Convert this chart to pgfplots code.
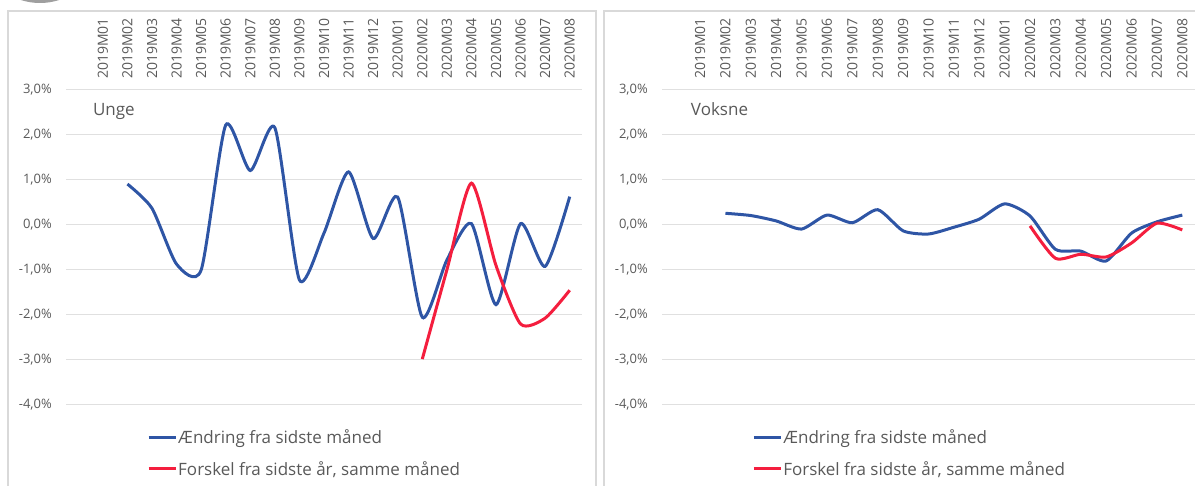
\documentclass[border=0pt]{standalone}
\usepackage{fontspec}
\setmainfont{Open Sans}
\usepackage{pgfplots}
\pgfplotsset{compat=1.18}
\usepackage{pgfplotstable}

\definecolor{serblue}{HTML}{2E55A5}
\definecolor{serred}{HTML}{F41E3E}
\definecolor{gridc}{HTML}{E0E0E0}
\definecolor{txt}{HTML}{595959}
\definecolor{frame}{HTML}{D9D9D9}

% x: 0 = 2019M01 ... 19 = 2020M08
\pgfplotstableread{
x y
1 0.91
2 0.37
3 -0.87
4 -1.00
5 2.22
6 1.21
7 2.16
8 -1.22
9 -0.18
10 1.18
11 -0.30
12 0.62
13 -2.05
14 -0.78
15 0.03
16 -1.77
17 0.03
18 -0.92
19 0.63
}\ungeBlue
\pgfplotstableread{
x y
13 -2.98
14 -1.00
15 0.93
16 -0.90
17 -2.20
18 -2.07
19 -1.45
}\ungeRed
\pgfplotstableread{
x y
1 0.26
2 0.21
3 0.09
4 -0.09
5 0.22
6 0.05
7 0.34
8 -0.13
9 -0.20
10 -0.05
11 0.13
12 0.47
13 0.20
14 -0.54
15 -0.58
16 -0.80
17 -0.18
18 0.07
19 0.22
}\voksneBlue
\pgfplotstableread{
x y
13 -0.02
14 -0.74
15 -0.65
16 -0.71
17 -0.40
18 0.04
19 -0.11
}\voksneRed

\pgfplotsset{
  panel/.style={
    scale only axis,
    height=315pt,
    xmin=-1.5, xmax=19.5,
    ymin=-4, ymax=3,
    axis line style={draw=none},
    major tick length=0pt,
    ymajorgrids,
    grid style={gridc, line width=1pt},
    xtick={0,...,19},
    xticklabels={2019M01,2019M02,2019M03,2019M04,2019M05,2019M06,2019M07,2019M08,2019M09,2019M10,2019M11,2019M12,2020M01,2020M02,2020M03,2020M04,2020M05,2020M06,2020M07,2020M08},
    xticklabel pos=upper,
    xticklabel style={rotate=90, anchor=west, inner xsep=11pt, inner ysep=0pt, font=\fontsize{14}{16}\selectfont, text=txt},
    ytick={-4,-3,-2,-1,0,1,2,3},
    yticklabels={{-4,0\%},{-3,0\%},{-2,0\%},{-1,0\%},{0,0\%},{1,0\%},{2,0\%},{3,0\%}},
    yticklabel style={anchor=east, inner sep=0pt, xshift=-14pt, font=\fontsize{13}{15}\selectfont, text=txt},
    clip=false,
    legend cell align=left,
    legend image code/.code={\draw[#1, line width=3pt, sharp plot] (0pt,0pt) -- (27pt,0pt);},
    legend style={draw=none, fill=none, anchor=north west, inner sep=0pt,
      font=\fontsize{17}{20}\selectfont, text=txt, row sep=14pt,
      nodes={inner sep=1pt},
      /tikz/every odd column/.append style={column sep=0pt}},
  },
  blueline/.style={serblue, line width=3pt, smooth, tension=0.4},
  redline/.style={serred, line width=3pt, smooth, tension=0.4},
}

\begin{document}
\begin{tikzpicture}[x=1pt,y=1pt]
% decoration circle and panel frames
\fill[gray!75] (40,545) circle (62);
\draw[frame, line width=1.5pt] (8,-20) rectangle (596,475);
\draw[frame, line width=1.5pt] (604,-20) rectangle (1220,475);

\begin{axis}[panel, at={(66pt,81pt)}, anchor=south west, width=516pt,
  legend style={at={(axis description cs:0.157,-0.075)}}]
  \addplot[blueline] table[x=x,y=y] {\ungeBlue};
  \addlegendentry{Ændring fra sidste måned}
  \addplot[redline] table[x=x,y=y] {\ungeRed};
  \addlegendentry{Forskel fra sidste år, samme måned}
  \node[anchor=base west, font=\fontsize{17}{20}\selectfont, text=txt, inner sep=0pt] at (axis description cs:0.052,0.918) {Unge};
\end{axis}

\begin{axis}[panel, at={(662pt,81pt)}, anchor=south west, width=533pt,
  legend style={at={(axis description cs:0.169,-0.075)}}]
  \addplot[blueline] table[x=x,y=y] {\voksneBlue};
  \addlegendentry{Ændring fra sidste måned}
  \addplot[redline] table[x=x,y=y] {\voksneRed};
  \addlegendentry{Forskel fra sidste år, samme måned}
  \node[anchor=base west, font=\fontsize{17}{20}\selectfont, text=txt, inner sep=0pt] at (axis description cs:0.054,0.918) {Voksne};
\end{axis}

\pgfresetboundingbox
\useasboundingbox (0,0) rectangle (1195,486);
\end{tikzpicture}
\end{document}
